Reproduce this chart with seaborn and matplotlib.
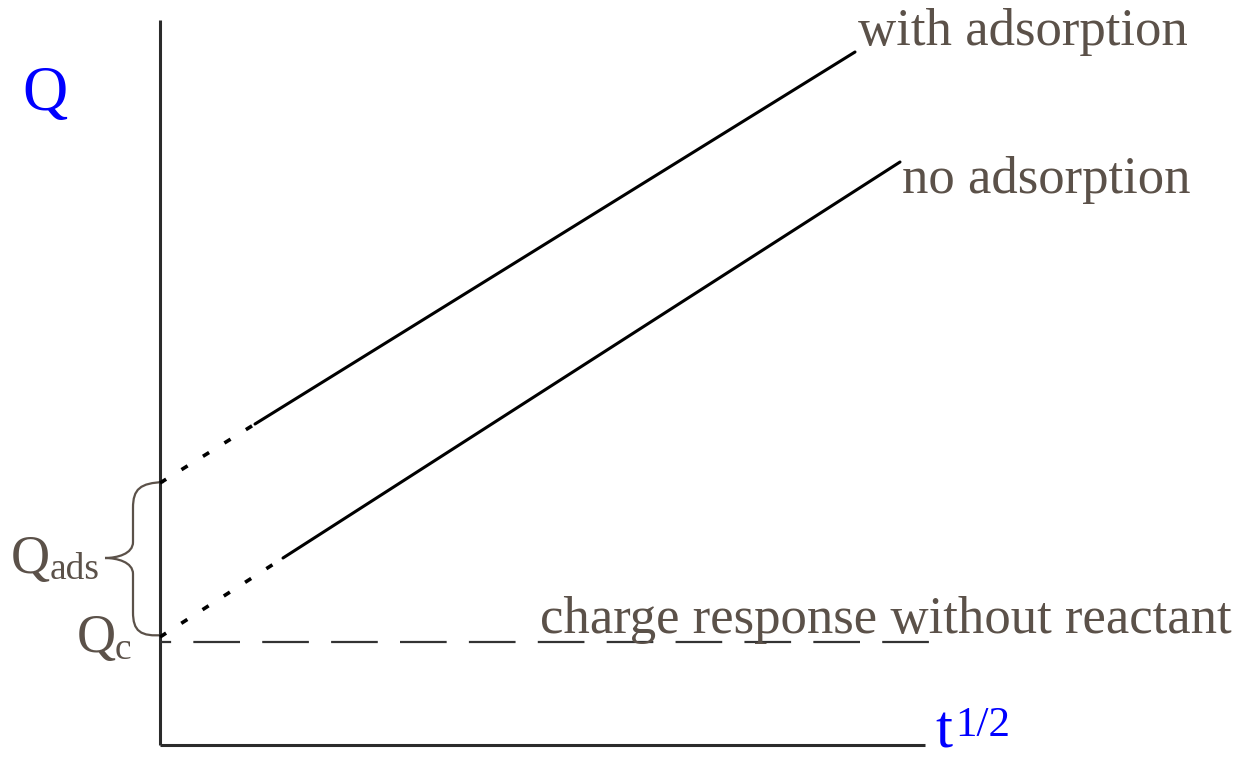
import numpy as np
import pandas as pd
import seaborn as sns
import matplotlib
matplotlib.use("Agg")
import matplotlib.pyplot as plt
from matplotlib.path import Path
from matplotlib.patches import PathPatch

# ---- schematic data (arbitrary units, origin at axes crossing) ----
t_axis_end = 765
q_axis_end = 725

# with adsorption: extrapolated (dotted) part and measured (solid) part
with_ads_t_dot = [0, 95]
with_ads_q_dot = [262, 321]
with_ads_t = [95, 695]
with_ads_q = [321, 693]

# no adsorption
no_ads_t_dot = [0, 123]
no_ads_q_dot = [108, 187]
no_ads_t = [123, 740]
no_ads_q = [187, 583]

# charge response without reactant (dashed baseline)
blank_t = [0, 770]
blank_q = [103, 103]

text_col = "#5b5149"
serif = ["Liberation Serif", "DejaVu Serif"]

sns.set_style("white")
fig = plt.figure(figsize=(12.52, 7.61), dpi=100)
ax = fig.add_axes([0, 0, 1, 1])
ax.set_xlim(-160, 1092)
ax.set_ylim(-16, 745)
ax.axis("off")

# axes
ax.plot([0, 0], [0, q_axis_end], color="#2b2b2b", lw=2.2, solid_capstyle="butt")
ax.plot([0, t_axis_end], [0, 0], color="#2b2b2b", lw=2.2, solid_capstyle="butt")

# lines
df_w = pd.DataFrame({"t": with_ads_t, "Q": with_ads_q})
df_n = pd.DataFrame({"t": no_ads_t, "Q": no_ads_q})
sns.lineplot(data=df_w, x="t", y="Q", ax=ax, color="black", lw=2.2, sort=False)
sns.lineplot(data=df_n, x="t", y="Q", ax=ax, color="black", lw=2.2, sort=False)
ax.plot(with_ads_t_dot, with_ads_q_dot, color="black", lw=2.6, linestyle=(0, (2, 5)))
ax.plot(no_ads_t_dot, no_ads_q_dot, color="black", lw=2.6, linestyle=(0, (2, 5)))
ax.plot(blank_t, blank_q, color="#333333", lw=1.6, linestyle=(16, (21, 10)))

# brace for Q_ads
top, bot = with_ads_q_dot[0], no_ads_q_dot[0]
tip = (top + bot) / 2 + 2
bx, tx = -27, -55
verts = [(4, top + 1),
         (-20, top), (bx, top - 6), (bx, top - 25),
         (bx, tip + 16),
         (bx, tip + 4), (tx + 12, tip), (tx, tip),
         (tx + 12, tip), (bx, tip - 4), (bx, tip - 16),
         (bx, bot + 25),
         (bx, bot + 6), (-20, bot), (4, bot + 2)]
codes = [Path.MOVETO,
         Path.CURVE4, Path.CURVE4, Path.CURVE4,
         Path.LINETO,
         Path.CURVE4, Path.CURVE4, Path.CURVE4,
         Path.CURVE4, Path.CURVE4, Path.CURVE4,
         Path.LINETO,
         Path.CURVE4, Path.CURVE4, Path.CURVE4]
ax.add_patch(PathPatch(Path(verts, codes), fill=False, ec=text_col, lw=1.6))

# labels
ax.text(698, 700, "with adsorption", family=serif, fontsize=38, color=text_col,
        ha="left", va="baseline")
ax.text(742, 552, "no adsorption", family=serif, fontsize=38, color=text_col,
        ha="left", va="baseline")
ax.text(380, 112, "charge response without reactant", family=serif, fontsize=38,
        color=text_col, ha="left", va="baseline")
ax.text(-138, 635, "Q", family=serif, fontsize=45, color="blue", ha="left", va="baseline")
ax.text(775, -2, "t", family=serif, fontsize=44, color="blue", ha="left", va="baseline")
ax.text(795, 9, "1/2", family=serif, fontsize=31, color="blue", ha="left", va="baseline")
ax.text(-149, 172, "Q", family=serif, fontsize=39, color=text_col, ha="left", va="baseline")
ax.text(-110, 166, "ads", family=serif, fontsize=27, color=text_col, ha="left", va="baseline")
ax.text(-83, 93, "Q", family=serif, fontsize=39, color=text_col, ha="left", va="baseline")
ax.text(-45, 86, "c", family=serif, fontsize=27, color=text_col, ha="left", va="baseline")

fig.savefig("out.png", dpi=100)
